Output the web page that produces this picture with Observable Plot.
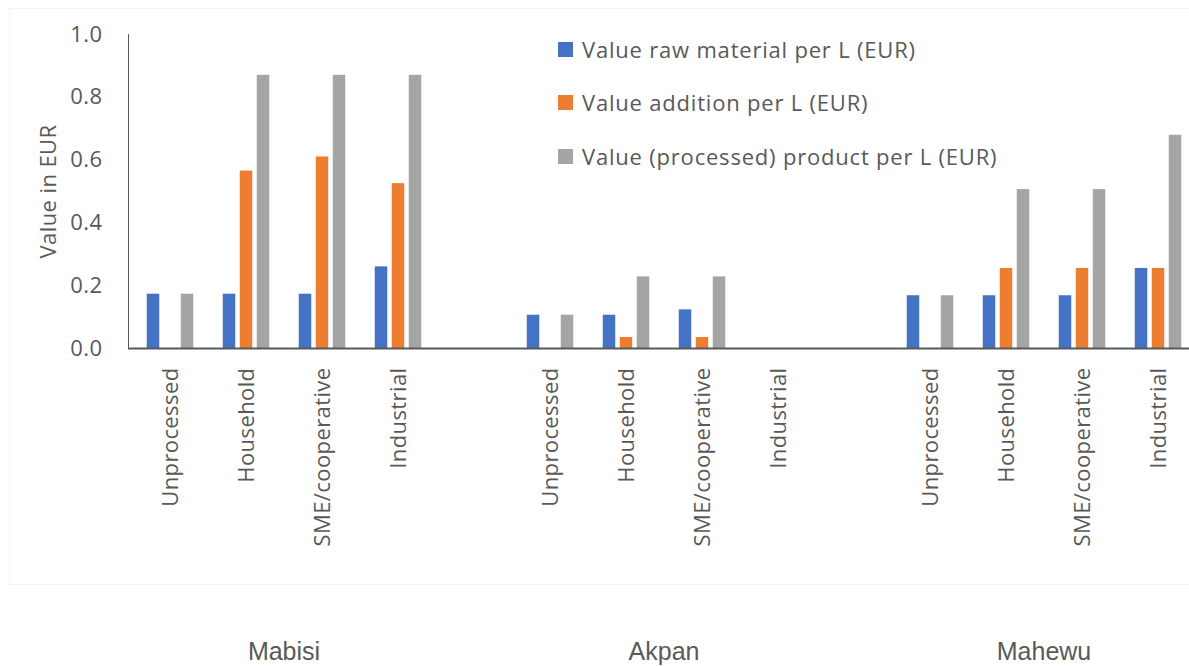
<!DOCTYPE html>
<html>
<head>
<meta charset="utf-8">
<script src="https://cdn.jsdelivr.net/npm/d3@7"></script>
<script src="https://cdn.jsdelivr.net/npm/@observablehq/plot@0.6"></script>
<style>
  html, body { margin: 0; padding: 0; background: #fff; }
  #wrap { position: relative; width: 1189px; height: 666px; overflow: hidden; font-family: "Open Sans", sans-serif; color: #595959; }
  #frameBox { position: absolute; left: 9px; top: 8px; width: 1190px; height: 577px; border: 1px solid #f3f3f3; box-sizing: border-box; pointer-events: none; }
  .legend { position: absolute; left: 558px; top: 0; }
  .legend .row { position: absolute; left: 0; white-space: nowrap; display: flex; align-items: center; height: 30px; }
  .legend .sw { width: 15px; height: 15px; margin-right: 9px; }
  .legend .lab { font-size: 22px; letter-spacing: 0.8px; line-height: 30px; }
  .grp { position: absolute; font-family: "Liberation Sans", Arial, sans-serif; font-size: 25px; line-height: 25px; color: #595959; transform: translateX(-50%); white-space: nowrap; }
</style>
</head>
<body>
<div id="wrap"><div id="frameBox"></div></div>
<script>
// ---- data ----
const products = ["Mabisi", "Akpan", "Mahewu"];
const categories = ["Unprocessed", "Household", "SME/cooperative", "Industrial"];
const seriesNames = [
  "Value raw material per L (EUR)",
  "Value addition per L (EUR)",
  "Value (processed) product per L (EUR)"
];
// values in product order, 4 categories each (null = no bar)
const rawMaterial   = [0.173, 0.173, 0.173, 0.26,   0.106, 0.106, 0.123, null,   0.168, 0.168, 0.168, 0.255];
const valueAddition = [null,  0.565, 0.61,  0.525,  null,  0.035, 0.035, null,   null,  0.255, 0.255, 0.255];
const productValue  = [0.173, 0.87,  0.87,  0.87,   0.106, 0.228, 0.228, null,   0.168, 0.506, 0.506, 0.679];
const yTicks = [0, 0.2, 0.4, 0.6, 0.8, 1.0];
const colors = ["#4472C4", "#ED7D31", "#A5A5A5"];

const seriesValues = [rawMaterial, valueAddition, productValue];

// category keys, with an empty slot between products
const keys = products.flatMap((p, i) => [
  ...categories.map(c => p + "|" + c),
  ...(i < products.length - 1 ? ["gap" + i] : [])
]);

function rowsFor(s) {
  const out = [];
  products.forEach((p, i) => categories.forEach((c, j) => {
    const v = seriesValues[s][i * categories.length + j];
    if (v != null) out.push({key: p + "|" + c, product: p, category: c, series: seriesNames[s], value: v});
  }));
  return out;
}

// ---- layout / style ----
const W = 1189, H = 666;
const xRange = [128, 1199];
const band = (xRange[1] - xRange[0]) / keys.length;
const barWidth = 13, barStep = 17;
const inset = (band - barWidth) / 2;
const textColor = "#595959";

const chart = Plot.plot({
  width: W,
  height: H,
  marginLeft: 128,
  marginRight: 0,
  marginTop: 34,
  marginBottom: 318,
  style: {fontFamily: "Open Sans, sans-serif", fontSize: "22px", color: textColor, background: "transparent", letterSpacing: "0.4px"},
  x: {
    domain: keys,
    range: xRange,
    padding: 0,
    tickSize: 0,
    tickPadding: 19,
    tickRotate: -90,
    tickFormat: k => k.startsWith("gap") ? "" : k.split("|")[1],
    label: null
  },
  y: {
    domain: [0, 1],
    ticks: yTicks,
    tickFormat: ".1f",
    tickSize: 0,
    tickPadding: 26,
    line: true,
    label: null
  },
  marks: [
    ...seriesNames.map((name, s) => Plot.barY(rowsFor(s), {
      x: "key",
      y: "value",
      fill: colors[s],
      insetLeft: inset,
      insetRight: inset,
      dx: (s - 1) * barStep
    })),
    Plot.ruleY([0], {stroke: textColor, strokeWidth: 2}),
    Plot.text(["Value in EUR"], {frameAnchor: "left", textAnchor: "middle", dx: -80, rotate: -90, fontSize: 22, fill: textColor})
  ]
});

const wrap = document.getElementById("wrap");
chart.style.position = "absolute";
chart.style.left = "0px";
chart.style.top = "0px";
wrap.appendChild(chart);

// style the y axis line
chart.querySelectorAll("[aria-label='y-axis'] path, [aria-label='y-axis'] line, [aria-label='y-axis line'] line").forEach(el => {
  el.setAttribute("stroke", textColor);
  el.setAttribute("stroke-width", "1.5");
});

// legend (inside plot area, top right)
const legend = document.createElement("div");
legend.className = "legend";
const rowCenters = [49, 102, 156];
seriesNames.forEach((name, s) => {
  const row = document.createElement("div");
  row.className = "row";
  row.style.top = (rowCenters[s] - 15) + "px";
  const sw = document.createElement("div");
  sw.className = "sw";
  sw.style.background = colors[s];
  const lab = document.createElement("div");
  lab.className = "lab";
  lab.textContent = name;
  row.appendChild(sw);
  row.appendChild(lab);
  legend.appendChild(row);
});
wrap.appendChild(legend);

// product group labels, centred under each group via the x scale
const xs = chart.scale("x");
products.forEach(p => {
  const first = xs.apply(p + "|" + categories[0]);
  const last = xs.apply(p + "|" + categories[categories.length - 1]);
  const cx = (first + last + xs.bandwidth) / 2;
  const d = document.createElement("div");
  d.className = "grp";
  d.style.left = cx + "px";
  d.style.top = "639px";
  d.textContent = p;
  wrap.appendChild(d);
});
</script>
</body>
</html>
